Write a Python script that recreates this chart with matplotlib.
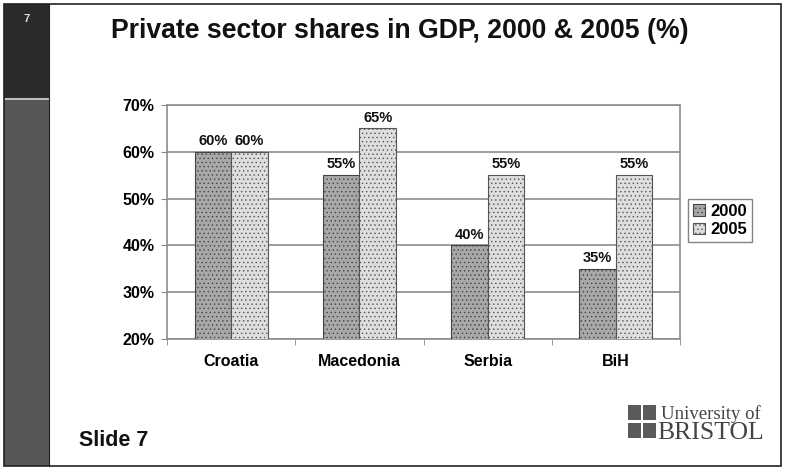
import matplotlib
matplotlib.use("Agg")
import matplotlib.pyplot as plt
from matplotlib.patches import Rectangle
import numpy as np

categories = ["Croatia", "Macedonia", "Serbia", "BiH"]
series_names = ["2000", "2005"]
values_2000 = [60, 55, 40, 35]
values_2005 = [60, 65, 55, 55]
yticks = [20, 30, 40, 50, 60, 70]

plt.rcParams["hatch.linewidth"] = 0.5
plt.rcParams["hatch.color"] = "#8a8a8a"

W, H = 786, 476
fig = plt.figure(figsize=(W/100, H/100), dpi=100)
fig.patch.set_facecolor("white")

def px(x0, y0, x1, y1):
    return [x0/W, 1 - y1/H, (x1-x0)/W, (y1-y0)/H]

FONT = "Liberation Sans"

# background decorations
bg = fig.add_axes([0, 0, 1, 1])
bg.set_xlim(0, W); bg.set_ylim(H, 0); bg.axis("off")
bg.add_patch(Rectangle((4, 4), 45, 94, facecolor="#2b2b2b", edgecolor="none"))
bg.add_patch(Rectangle((4, 98), 45, 2, facecolor="#bdbdbd", edgecolor="none"))
bg.add_patch(Rectangle((4, 100), 45, 366, facecolor="#575757", edgecolor="none"))
bg.add_patch(Rectangle((4, 4), 777, 462, facecolor="none", edgecolor="#222222", lw=1.2))
bg.plot([49, 49], [4, 466], color="#222222", lw=0.8)
bg.text(27, 19, "7", color="#dddddd", fontsize=8, fontweight="bold", ha="center", va="center",
        family=FONT)
bg.text(400, 31, "Private sector shares in GDP, 2000 & 2005 (%)", fontsize=19.2, fontweight="bold",
        ha="center", va="center", family=FONT, color="#111111")
bg.text(79, 440, "Slide 7", fontsize=15.5, fontweight="bold", ha="left", va="center",
        family=FONT, color="#111111")
# logo
for (lx, ly) in [(628, 405), (643, 405), (628, 423), (643, 423)]:
    bg.add_patch(Rectangle((lx, ly), 13, 15, facecolor="#5a5a5a", edgecolor="none"))
bg.text(661, 414, "University of", fontsize=13.5, family="Liberation Serif", ha="left", va="center",
        color="#444444")
bg.text(657, 433, "BRISTOL", fontsize=18.5, family="Liberation Serif", ha="left", va="center",
        color="#444444")

ax = fig.add_axes(px(167, 105, 680, 339))
x = np.arange(len(categories))
bw = 0.285
b1 = ax.bar(x - bw/2, values_2000, bw, color="#a8a8a8", edgecolor="#444444", lw=0.8,
            hatch="....", label=series_names[0], zorder=3)
b2 = ax.bar(x + bw/2, values_2005, bw, color="#dedede", edgecolor="#555555", lw=0.8,
            hatch="....", label=series_names[1], zorder=3)
for xi, v in zip(x - bw/2, values_2000):
    ax.text(xi, v + 0.8, f"{v}%", ha="center", va="bottom", fontsize=10.5, fontweight="bold",
            family=FONT, color="#111111")
for xi, v in zip(x + bw/2, values_2005):
    ax.text(xi, v + 0.8, f"{v}%", ha="center", va="bottom", fontsize=10.5, fontweight="bold",
            family=FONT, color="#111111")

ax.set_xlim(-0.5, len(categories) - 0.5)
ax.set_ylim(20, 70)
ax.set_yticks(yticks)
ax.set_yticklabels([f"{t}%" for t in yticks], fontsize=11.5, fontweight="bold", family=FONT)
ax.yaxis.grid(True, color="#8c8c8c", lw=1.2, zorder=0)
ax.set_axisbelow(True)
ax.set_xticks(x)
ax.set_xticklabels(categories, fontsize=11.5, fontweight="bold", family=FONT)
ax.tick_params(axis="x", length=0, pad=11)
ax.set_xticks(np.arange(-0.5, len(categories), 1), minor=True)
ax.tick_params(axis="x", which="minor", length=4, color="#888888")
ax.tick_params(axis="y", length=4, color="#888888", pad=5)
for s in ax.spines.values():
    s.set_color("#8c8c8c"); s.set_linewidth(1.2)

leg = fig.legend(handles=[b1, b2], labels=series_names, loc="upper left",
                 bbox_to_anchor=(688/W, 1 - 199/H), frameon=True, fancybox=False,
                 prop={"family": FONT, "weight": "bold", "size": 12},
                 handlelength=0.7, handleheight=0.7, handletextpad=0.35, borderpad=0.3,
                 labelspacing=0.2, borderaxespad=0)
leg.get_frame().set_edgecolor("#666666")
leg.get_frame().set_linewidth(1.0)

fig.savefig("out.png", dpi=100)
